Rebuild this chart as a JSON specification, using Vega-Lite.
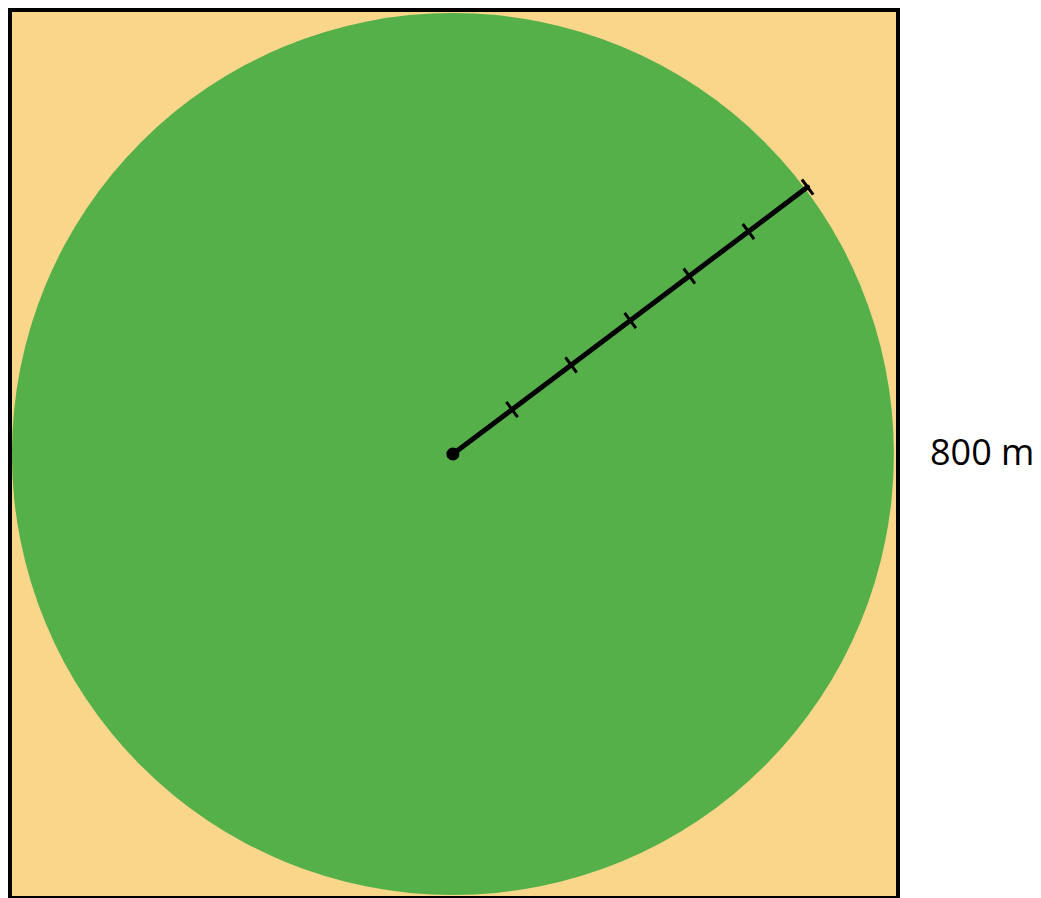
{
  "$schema": "https://vega.github.io/schema/vega-lite/v6.json",
  "width": 888,
  "height": 888,
  "autosize": {"type": "none"},
  "padding": {"left": 10, "top": 10, "right": 143, "bottom": 0},
  "background": "white",
  "config": {"view": {"stroke": null}},
  "layer": [
    {
      "data": {"values": [{"x": 0, "x2": 800, "y": 0, "y2": 800}]},
      "mark": {"type": "rect", "fill": "#FAD68B", "stroke": "#000000", "strokeWidth": 4, "clip": false},
      "encoding": {
        "x": {"field": "x", "type": "quantitative", "scale": {"domain": [0, 800], "nice": false, "zero": false}, "axis": null},
        "x2": {"field": "x2"},
        "y": {"field": "y", "type": "quantitative", "scale": {"domain": [0, 800], "nice": false, "zero": false}, "axis": null},
        "y2": {"field": "y2"}
      }
    },
    {
      "data": {"values": [{"x": 399, "y": 400}]},
      "mark": {"type": "point", "shape": "circle", "filled": true, "fill": "#56B04A", "opacity": 1, "size": 777924, "strokeWidth": 0},
      "encoding": {
        "x": {"field": "x", "type": "quantitative"},
        "y": {"field": "y", "type": "quantitative"}
      }
    },
    {
      "data": {"values": [{"x": 399, "y": 400, "x2": 718.5, "y2": 640.5}]},
      "mark": {"type": "rule", "color": "#000000", "strokeWidth": 5, "strokeCap": "round"},
      "encoding": {
        "x": {"field": "x", "type": "quantitative"},
        "y": {"field": "y", "type": "quantitative"},
        "x2": {"field": "x2"},
        "y2": {"field": "y2"}
      }
    },
    {
      "data": {"values": [
        {"x": 447.15, "y": 446.88, "x2": 457.35, "y2": 433.28},
        {"x": 500.4, "y": 486.97, "x2": 510.6, "y2": 473.37},
        {"x": 553.65, "y": 527.05, "x2": 563.85, "y2": 513.45},
        {"x": 606.9, "y": 567.13, "x2": 617.1, "y2": 553.53},
        {"x": 660.15, "y": 607.22, "x2": 670.35, "y2": 593.62},
        {"x": 713.4, "y": 647.3, "x2": 723.6, "y2": 633.7}
      ]},
      "mark": {"type": "rule", "color": "#000000", "strokeWidth": 3},
      "encoding": {
        "x": {"field": "x", "type": "quantitative"},
        "y": {"field": "y", "type": "quantitative"},
        "x2": {"field": "x2"},
        "y2": {"field": "y2"}
      }
    },
    {
      "data": {"values": [{"x": 399, "y": 400}]},
      "mark": {"type": "point", "shape": "circle", "filled": true, "fill": "#000000", "opacity": 1, "size": 170, "strokeWidth": 0},
      "encoding": {
        "x": {"field": "x", "type": "quantitative"},
        "y": {"field": "y", "type": "quantitative"}
      }
    },
    {
      "data": {"values": [{"x": 800, "y": 400, "label": "800 m"}]},
      "mark": {"type": "text", "align": "left", "baseline": "middle", "dx": 32, "dy": 0, "font": "Open Sans", "fontSize": 36, "color": "#000000"},
      "encoding": {
        "x": {"field": "x", "type": "quantitative"},
        "y": {"field": "y", "type": "quantitative"},
        "text": {"field": "label"}
      }
    }
  ]
}
